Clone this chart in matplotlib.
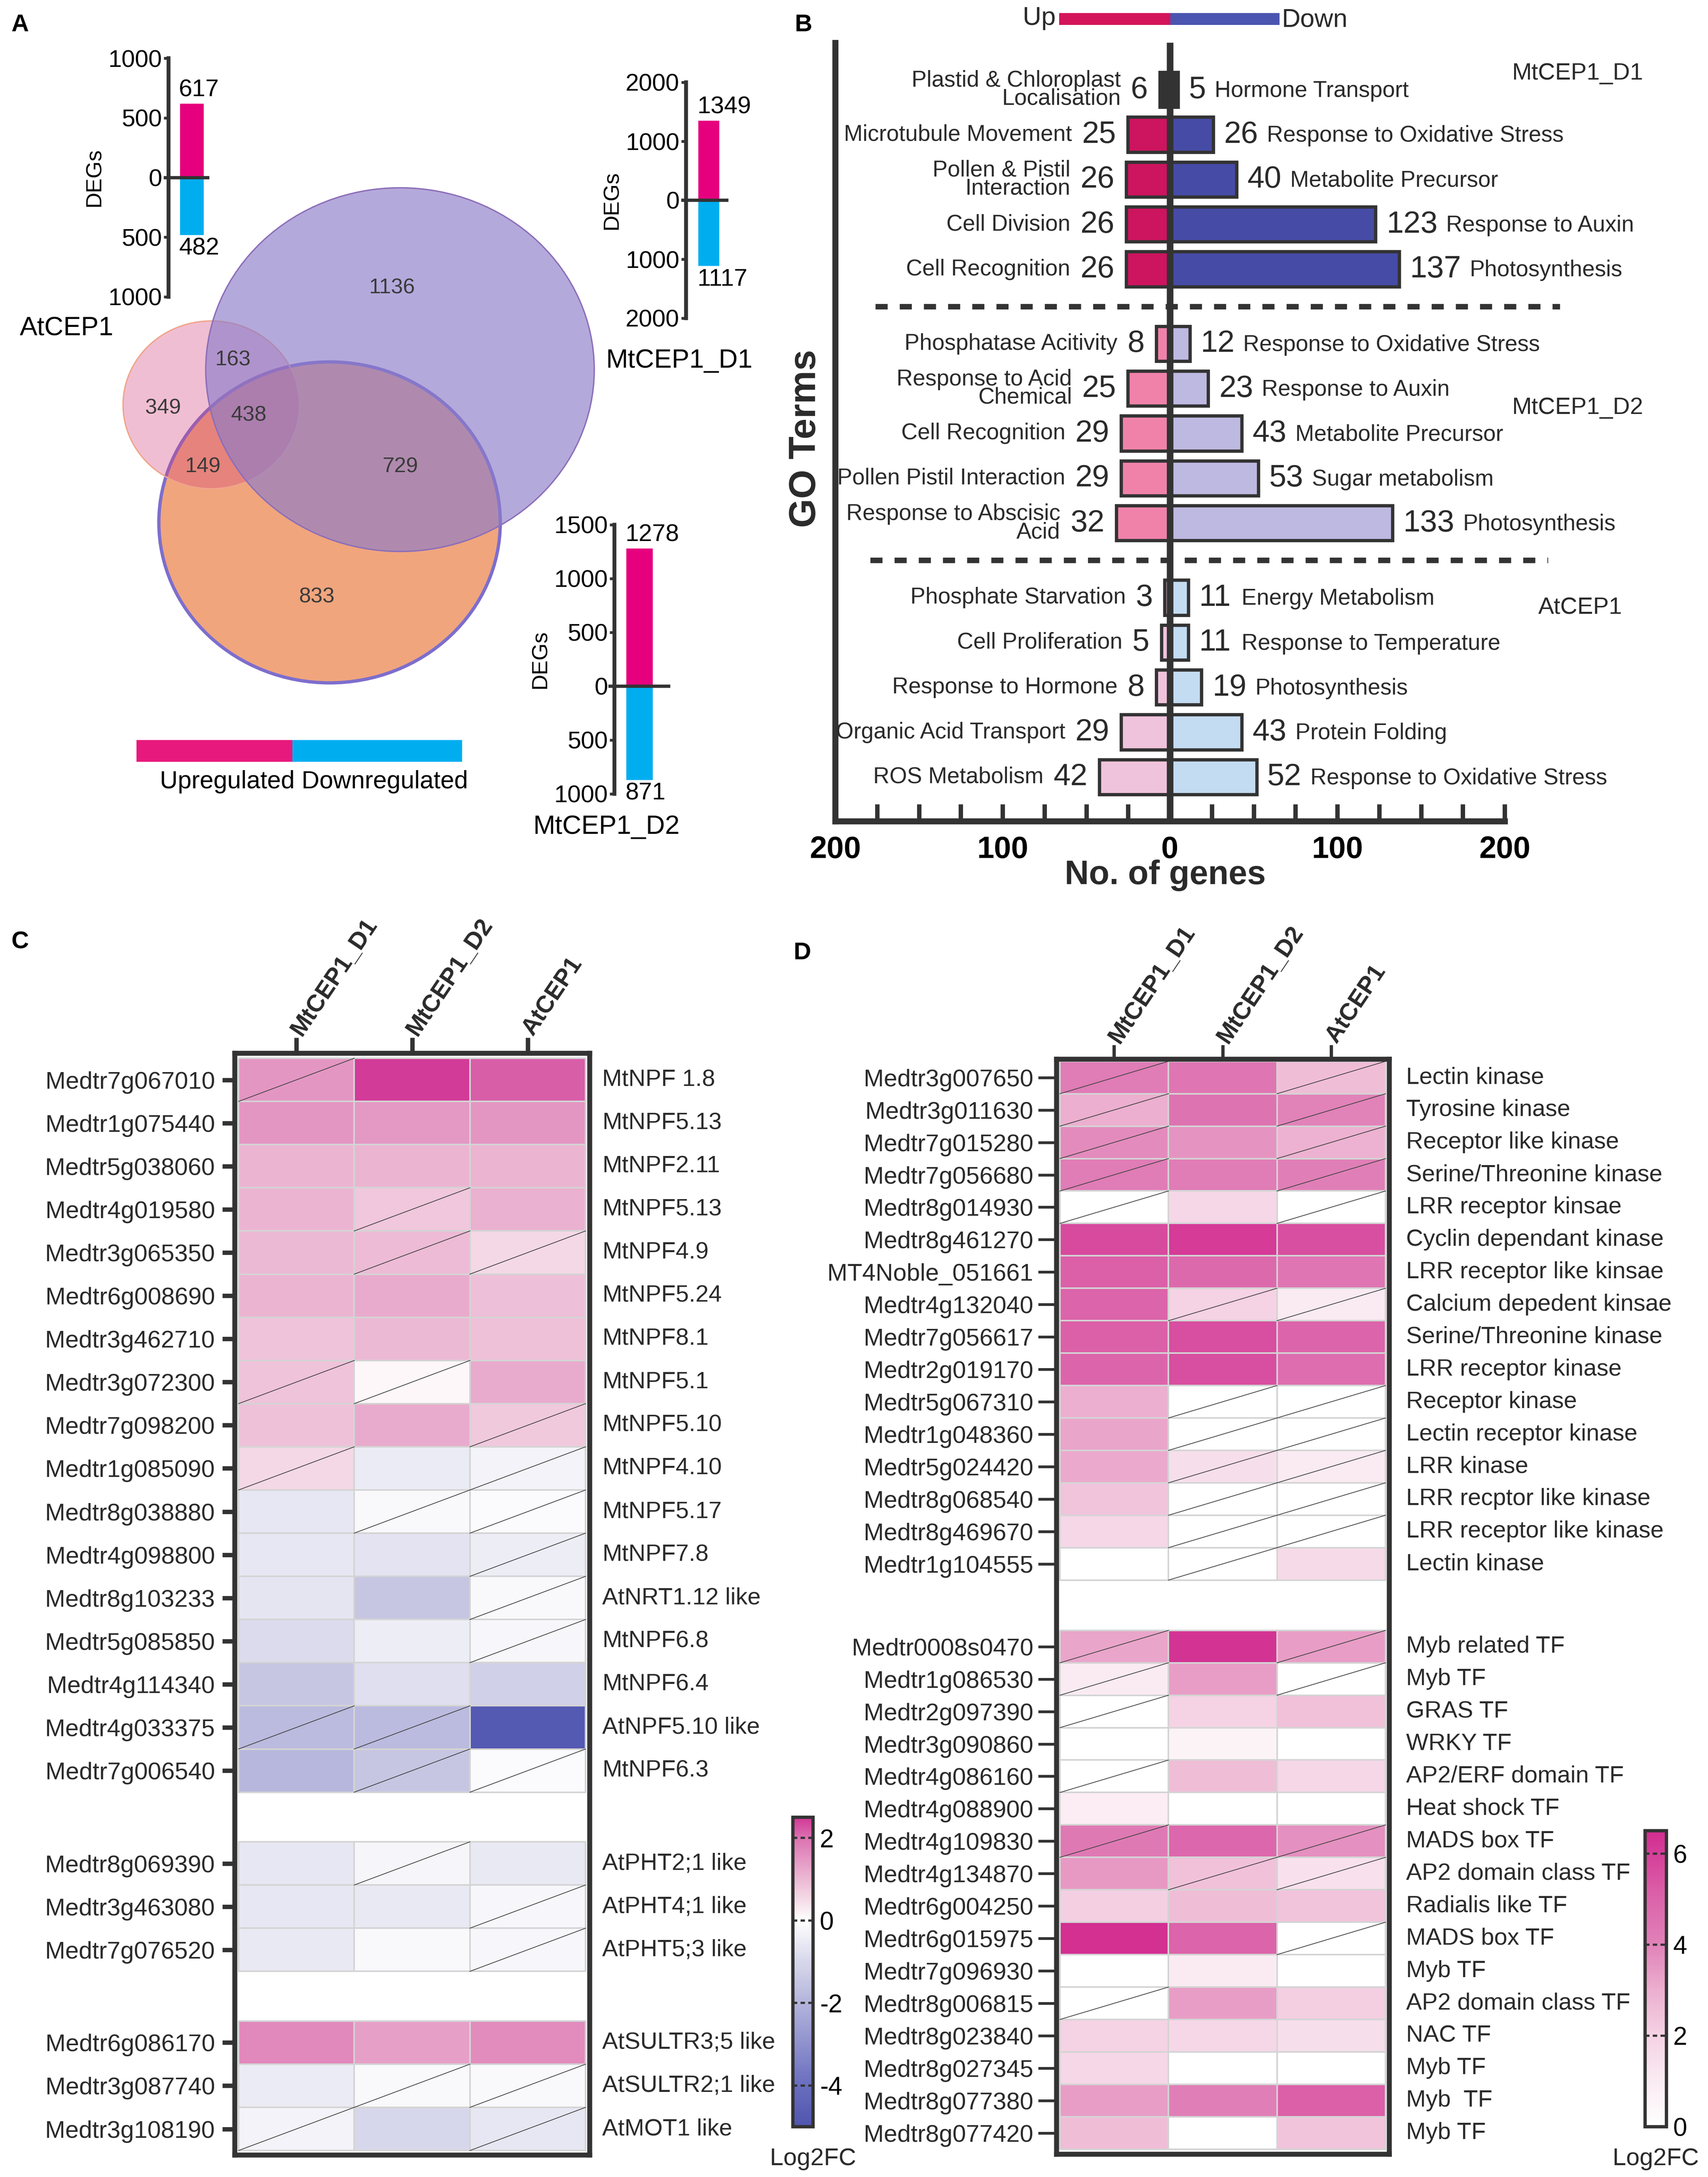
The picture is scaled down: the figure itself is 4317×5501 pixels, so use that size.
import numpy as np
import matplotlib
matplotlib.use('Agg')
import matplotlib.pyplot as plt
import matplotlib.colors as mcolors
from matplotlib.patches import Ellipse, Rectangle
from matplotlib import transforms

plt.rcParams['font.family'] = ['Liberation Sans', 'DejaVu Sans']
plt.rcParams['axes.unicode_minus'] = False
# no condensed face is installed, so "narrow" text is regular text at a smaller size
NARROW = ['Liberation Sans', 'DejaVu Sans']
DARK = '#333333'
W, H = 4317, 5501

# ---------------- panel A data ----------------
deg_names = ['AtCEP1', 'MtCEP1_D1', 'MtCEP1_D2']
deg_up = [617, 1349, 1278]
deg_down = [482, 1117, 871]
venn_regions = ['At', 'At&D1', 'D1', 'At&D2', 'At&D1&D2', 'D1&D2', 'D2']
venn_counts = [349, 163, 1136, 149, 438, 729, 833]

# ---------------- panel B data ----------------
go_groups = ['MtCEP1_D1', 'MtCEP1_D2', 'AtCEP1']
up_terms = ['Plastid & Chloroplast\nLocalisation', 'Microtubule Movement',
            'Pollen & Pistil\nInteraction', 'Cell Division', 'Cell Recognition',
            'Phosphatase Acitivity', 'Response to Acid\nChemical', 'Cell Recognition',
            'Pollen Pistil Interaction', 'Response to Abscisic\nAcid',
            'Phosphate Starvation', 'Cell Proliferation', 'Response to Hormone',
            'Organic Acid Transport', 'ROS Metabolism']
up_counts = [6, 25, 26, 26, 26, 8, 25, 29, 29, 32, 3, 5, 8, 29, 42]
down_terms = ['Hormone Transport', 'Response to Oxidative Stress', 'Metabolite Precursor',
              'Response to Auxin', 'Photosynthesis',
              'Response to Oxidative Stress', 'Response to Auxin', 'Metabolite Precursor',
              'Sugar metabolism', 'Photosynthesis',
              'Energy Metabolism', 'Response to Temperature', 'Photosynthesis',
              'Protein Folding', 'Response to Oxidative Stress']
down_counts = [5, 26, 40, 123, 137, 12, 23, 43, 53, 133, 11, 11, 19, 43, 52]

# ---------------- panel C data ----------------
hm_cols = ['MtCEP1_D1', 'MtCEP1_D2', 'AtCEP1']
c_genes = ['Medtr7g067010', 'Medtr1g075440', 'Medtr5g038060', 'Medtr4g019580',
           'Medtr3g065350', 'Medtr6g008690', 'Medtr3g462710', 'Medtr3g072300',
           'Medtr7g098200', 'Medtr1g085090', 'Medtr8g038880', 'Medtr4g098800',
           'Medtr8g103233', 'Medtr5g085850', 'Medtr4g114340', 'Medtr4g033375',
           'Medtr7g006540',
           'Medtr8g069390', 'Medtr3g463080', 'Medtr7g076520',
           'Medtr6g086170', 'Medtr3g087740', 'Medtr3g108190']
c_names = ['MtNPF 1.8', 'MtNPF5.13', 'MtNPF2.11', 'MtNPF5.13', 'MtNPF4.9', 'MtNPF5.24',
           'MtNPF8.1', 'MtNPF5.1', 'MtNPF5.10', 'MtNPF4.10', 'MtNPF5.17', 'MtNPF7.8',
           'AtNRT1.12 like', 'MtNPF6.8', 'MtNPF6.4', 'AtNPF5.10 like', 'MtNPF6.3',
           'AtPHT2;1 like', 'AtPHT4;1 like', 'AtPHT5;3 like',
           'AtSULTR3;5 like', 'AtSULTR2;1 like', 'AtMOT1 like']
c_group_sizes = [17, 3, 3]
c_d1 = [1.5, 1.5, 1.05, 1.05, 1.0, 1.05, 0.85, 0.85, 0.88, 0.55, -0.6, -0.6, -0.65,
        -0.9, -1.5, -1.8, -1.9, -0.6, -0.6, -0.55, 1.7, -0.5, -0.3]
c_d2 = [2.45, 1.45, 1.05, 0.8, 0.95, 1.2, 1.0, 0.1, 1.2, -0.5, -0.15, -0.7, -1.5,
        -0.45, -0.8, -1.8, -1.5, -0.25, -0.55, -0.15, 1.35, -0.15, -1.0]
c_at = [2.15, 1.5, 1.05, 1.1, 0.55, 0.9, 0.88, 1.2, 0.75, -0.3, -0.1, -0.45, -0.15,
        -0.2, -1.2, -4.8, -0.1, -0.55, -0.2, -0.2, 1.65, -0.15, -0.6]
c_ns_d1 = [1, 0, 0, 0, 0, 0, 0, 1, 0, 1, 0, 0, 0, 0, 0, 1, 0, 0, 0, 0, 0, 0, 1]
c_ns_d2 = [0, 0, 0, 1, 1, 0, 0, 1, 0, 0, 1, 0, 0, 0, 0, 1, 1, 1, 0, 0, 0, 1, 0]
c_ns_at = [0, 0, 0, 0, 1, 0, 0, 0, 1, 1, 1, 1, 1, 1, 0, 0, 1, 0, 1, 1, 0, 1, 1]

# ---------------- panel D data ----------------
d_genes = ['Medtr3g007650', 'Medtr3g011630', 'Medtr7g015280', 'Medtr7g056680',
           'Medtr8g014930', 'Medtr8g461270', 'MT4Noble_051661', 'Medtr4g132040',
           'Medtr7g056617', 'Medtr2g019170', 'Medtr5g067310', 'Medtr1g048360',
           'Medtr5g024420', 'Medtr8g068540', 'Medtr8g469670', 'Medtr1g104555',
           'Medtr0008s0470', 'Medtr1g086530', 'Medtr2g097390', 'Medtr3g090860',
           'Medtr4g086160', 'Medtr4g088900', 'Medtr4g109830', 'Medtr4g134870',
           'Medtr6g004250', 'Medtr6g015975', 'Medtr7g096930', 'Medtr8g006815',
           'Medtr8g023840', 'Medtr8g027345', 'Medtr8g077380', 'Medtr8g077420']
d_names = ['Lectin kinase', 'Tyrosine kinase', 'Receptor like kinase',
           'Serine/Threonine kinase', 'LRR receptor kinsae', 'Cyclin dependant kinase',
           'LRR receptor like kinsae', 'Calcium depedent kinsae', 'Serine/Threonine kinase',
           'LRR receptor kinase', 'Receptor kinase', 'Lectin receptor kinase', 'LRR kinase',
           'LRR recptor like kinase', 'LRR receptor like kinase', 'Lectin kinase',
           'Myb related TF', 'Myb TF', 'GRAS TF', 'WRKY TF', 'AP2/ERF domain TF',
           'Heat shock TF', 'MADS box TF', 'AP2 domain class TF', 'Radialis like TF',
           'MADS box TF', 'Myb TF', 'AP2 domain class TF', 'NAC TF', 'Myb TF', 'Myb  TF',
           'Myb TF']
d_group_sizes = [16, 16]
d_d1 = [4.2, 3.0, 3.8, 4.2, 0, 5.7, 5.1, 5.0, 5.1, 5.0, 3.0, 3.2, 3.1, 2.4, 1.8, 0,
        3.2, 1.0, 0, 0, 0, 0.9, 4.3, 3.5, 2.1, 6.4, 0, 0, 2.0, 1.8, 3.4, 2.6]
d_d2 = [4.4, 4.5, 3.6, 4.2, 1.8, 6.1, 4.8, 2.0, 5.6, 5.6, 0, 0, 1.5, 0, 0, 0,
        6.3, 3.4, 2.0, 0.6, 2.6, 0, 4.9, 2.5, 2.6, 5.0, 1.0, 3.4, 1.8, 0, 4.1, 0]
d_at = [2.6, 4.0, 2.9, 4.1, 0, 5.6, 4.4, 1.0, 5.0, 4.7, 0, 0, 1.0, 0, 0, 1.7,
        3.4, 0, 2.5, 0, 1.8, 0, 3.7, 1.4, 2.4, 0, 0, 2.1, 1.5, 0, 5.1, 2.4]
d_ns_d1 = [1, 1, 1, 1, 1, 0, 0, 0, 0, 0, 0, 0, 0, 0, 0, 0,
           1, 1, 1, 0, 1, 0, 1, 0, 0, 0, 0, 1, 0, 0, 0, 0]
d_ns_d2 = [0, 0, 0, 0, 0, 0, 0, 1, 0, 0, 1, 1, 1, 1, 1, 1,
           0, 0, 0, 0, 0, 0, 0, 1, 0, 0, 0, 0, 0, 0, 0, 0]
d_ns_at = [1, 1, 1, 1, 1, 0, 0, 1, 0, 0, 1, 1, 1, 1, 1, 0,
           1, 1, 0, 0, 0, 0, 1, 1, 0, 1, 0, 0, 0, 0, 0, 0]


def rgb(*c):
    return tuple(v / 255 for v in c)


fig = plt.figure(figsize=(W / 100, H / 100), dpi=100)


def px_axes(x0, y0, x1, y1):
    return fig.add_axes([x0 / W, 1 - y1 / H, (x1 - x0) / W, (y1 - y0) / H])


# overlay in pixel coordinates for free text and shapes
ax0 = fig.add_axes([0, 0, 1, 1])
ax0.set_xlim(0, W)
ax0.set_ylim(H, 0)
ax0.axis('off')

for lab, (x, y) in zip('ABCD', [(51, 63), (2031, 63), (51, 2381), (2028, 2408)]):
    ax0.text(x, y, lab, fontsize=44, fontweight='bold', ha='center', va='center')

# ---------------- panel A: Venn ----------------
ell_d2 = dict(xy=(833, 1320), width=863, height=811)
ell_at = dict(xy=(534, 1023), width=446, height=424)
ell_d1 = dict(xy=(1011, 934), width=982, height=919)
ax0.add_patch(Ellipse(**ell_d2, facecolor=rgb(240, 165, 125), edgecolor='none'))
ax0.add_patch(Ellipse(**ell_d2, facecolor='none', edgecolor=rgb(125, 110, 205), lw=6))
ax0.add_patch(Ellipse(**ell_at, facecolor=rgb(212, 69, 126), alpha=0.35, edgecolor='none'))
ax0.add_patch(Ellipse(**ell_at, facecolor='none', edgecolor=rgb(240, 165, 140), lw=2.5))
ax0.add_patch(Ellipse(**ell_d1, facecolor=rgb(140, 124, 201), alpha=0.65, edgecolor='none'))
ax0.add_patch(Ellipse(**ell_d1, facecolor='none', edgecolor=rgb(140, 110, 185), lw=2.5))

venn_xy = [(412, 1031), (589, 909), (991, 727), (513, 1179), (629, 1049), (1011, 1179),
           (801, 1508)]
for cnt, (x, y) in zip(venn_counts, venn_xy):
    ax0.text(x, y, str(cnt), fontsize=39, family=NARROW, color='#3a3a3a',
             ha='center', va='center')

# DEG insets
inset_rects = [(426, 147, 525, 750), (1734, 208, 1837, 804), (1553, 1326, 1690, 2006)]
inset_lims = [(-1000, 1000), (-2000, 2000), (-1000, 1500)]
inset_ticks = [[-1000, -500, 0, 500, 1000], [-2000, -1000, 0, 1000, 2000],
               [-1000, -500, 0, 500, 1000, 1500]]
inset_bar = [(0.596, 0.606), (0.558, 0.515), (0.464, 0.49)]
name_xy = [(168, 830), (1717, 912), (1533, 2090)]
for k in range(3):
    ax = px_axes(*inset_rects[k])
    ax.set_facecolor('none')
    bx, bw = inset_bar[k]
    ax.bar([bx], [deg_up[k]], width=bw, color='#E6007E')
    ax.bar([bx], [-deg_down[k]], width=bw, color='#00AEEF')
    ax.set_xlim(0, 1)
    ax.set_ylim(*inset_lims[k])
    for s in ['top', 'right', 'bottom']:
        ax.spines[s].set_visible(False)
    ax.spines['left'].set_linewidth(7)
    ax.spines['left'].set_color(DARK)
    ax.axhline(0, xmin=-0.08, xmax=1, color=DARK, lw=6, clip_on=False)
    ax.set_xticks([])
    ax.set_yticks(inset_ticks[k])
    ax.set_yticklabels([str(abs(t)) for t in inset_ticks[k]])
    ax.tick_params(axis='y', length=9, width=5, pad=3, labelsize=44, color=DARK)
    ax.set_ylabel('DEGs', fontsize=40, labelpad=6)
    ax.annotate(str(deg_up[k]), (bx - bw / 2, deg_up[k]), xytext=(-2, 4),
                textcoords='offset points', ha='left', va='bottom', fontsize=44)
    ax.annotate(str(deg_down[k]), (bx - bw / 2, -deg_down[k]), xytext=(-2, -4),
                textcoords='offset points', ha='left', va='top', fontsize=44)
    ax0.text(*name_xy[k], deg_names[k], fontsize=48, ha='center', va='center')

ax0.add_patch(Rectangle((345, 1870), 394, 55, color='#E8197D', lw=0))
ax0.add_patch(Rectangle((739, 1870), 429, 55, color='#00AEEF', lw=0))
ax0.text(793, 1975, 'Upregulated Downregulated', fontsize=45, ha='center', va='center')

# ---------------- panel B: GO bars ----------------
up_colors = ['#CD145F', '#F082AA', '#F0C3DC']
down_colors = ['#464BA5', '#BEB9E1', '#C3DCF2']
GROUP_STEP = 5.66
axB = px_axes(2111, 108, 3803, 2075)
axB.set_facecolor('none')
axB.set_xlim(-200, 200)
axB.set_ylim(16.3, -1.05)
for g in range(3):
    for i in range(5):
        k = g * 5 + i
        y = g * GROUP_STEP + i
        fu, fd = up_colors[g], down_colors[g]
        if k == 0:
            fu = fd = DARK
        axB.barh(y, -up_counts[k], height=0.78, color=fu, edgecolor=DARK, lw=6)
        axB.barh(y, down_counts[k], height=0.78, color=fd, edgecolor=DARK, lw=6)
        nu, nd = str(up_counts[k]), str(down_counts[k])
        axB.annotate(nu, (-up_counts[k], y), xytext=(-22, 0), textcoords='offset points',
                     ha='right', va='center', fontsize=56, color='#2a2a2a')
        axB.annotate(up_terms[k], (-up_counts[k], y),
                     xytext=(-22 - 31 * len(nu) - 18, 0), textcoords='offset points',
                     ha='right', va='center', fontsize=41, family=NARROW,
                     linespacing=0.8, color='#2a2a2a')
        axB.annotate(nd, (down_counts[k], y), xytext=(19, 0), textcoords='offset points',
                     ha='left', va='center', fontsize=56, color='#2a2a2a')
        axB.annotate(down_terms[k], (down_counts[k], y),
                     xytext=(19 + 31 * len(nd) + 16, -2), textcoords='offset points',
                     ha='left', va='center', fontsize=41, family=NARROW, color='#2a2a2a')

axB.axvline(0, color=DARK, lw=12, zorder=5)
for yd, x0, x1 in [(GROUP_STEP - 0.83, -176, 233), (2 * GROUP_STEP - 0.83, -179, 226)]:
    axB.plot([x0, x1], [yd, yd], color=DARK, lw=10, ls=(0, (2.2, 2.2)), clip_on=False,
             solid_capstyle='butt')
for s in ['top', 'right']:
    axB.spines[s].set_visible(False)
for s in ['left', 'bottom']:
    axB.spines[s].set_linewidth(11)
    axB.spines[s].set_color(DARK)
axB.set_yticks([])
xt = np.arange(-200, 201, 25)
axB.set_xticks(xt)
axB.set_xticklabels([str(abs(t)) if t % 100 == 0 else '' for t in xt])
axB.tick_params(axis='x', direction='in', length=31, width=8, pad=26, labelsize=56,
                color=DARK)
for lab in axB.get_xticklabels():
    lab.set_fontweight('bold')

ax0.text(2037, 1108, 'GO Terms', rotation=90, fontsize=68, fontweight='bold',
         ha='center', va='center', color='#2a2a2a')
ax0.text(2945, 2212, 'No. of genes', fontsize=61, fontweight='bold', ha='center',
         va='center', color='#2a2a2a')
for name, (x, y) in zip(go_groups, [(3987, 185), (3987, 1030), (3994, 1536)]):
    ax0.text(x, y, name, fontsize=43, family=NARROW, ha='center', va='center',
             color='#2a2a2a')
ax0.add_patch(Rectangle((2677, 33), 281, 30, color='#D4145A', lw=0))
ax0.add_patch(Rectangle((2958, 33), 276, 30, color='#4A55B0', lw=0))
ax0.text(2668, 46, 'Up', fontsize=47, ha='right', va='center', color='#2a2a2a')
ax0.text(3240, 50, 'Down', fontsize=47, ha='left', va='center', color='#2a2a2a')

# ---------------- heatmaps ----------------
c_cmap = mcolors.LinearSegmentedColormap.from_list('c', [
    (0.0, rgb(80, 85, 175)), (1 / 7.5, rgb(105, 110, 190)), (3 / 7.5, rgb(180, 180, 220)),
    (4 / 7.5, rgb(215, 215, 235)), (5 / 7.5, rgb(255, 255, 255)),
    (5.5 / 7.5, rgb(245, 220, 232)), (6 / 7.5, rgb(236, 185, 212)),
    (6.5 / 7.5, rgb(228, 150, 195)), (7 / 7.5, rgb(220, 115, 178)),
    (1.0, rgb(210, 55, 150))])
c_norm = mcolors.Normalize(-5, 2.5)
d_cmap = mcolors.LinearSegmentedColormap.from_list('d', [
    (0.0, rgb(255, 255, 255)), (1 / 6.5, rgb(250, 235, 242)), (2 / 6.5, rgb(245, 210, 228)),
    (3 / 6.5, rgb(236, 175, 207)), (4 / 6.5, rgb(225, 130, 185)),
    (5 / 6.5, rgb(220, 100, 170)), (1.0, rgb(210, 45, 145))])
d_norm = mcolors.Normalize(0, 6.5)


def heatmap(rect, genes, names, vals, ns, sizes, gap, cmap, norm, margins, name_x,
            ytick_len, ytick_w, ytick_pad, xtick_len, xtick_w, box_lw):
    ax = px_axes(*rect)
    starts, s = [], 0
    for n in sizes:
        starts.append(s)
        s += n + gap
    end = s - gap
    centers = []
    r = 0
    mesh = None
    for st, n in zip(starts, sizes):
        mesh = ax.pcolormesh(np.arange(4), st + np.arange(n + 1), vals[r:r + n],
                             cmap=cmap, norm=norm, edgecolors='#d4d4d4', linewidth=1.5)
        for i in range(n):
            centers.append(st + i + 0.5)
            for j in range(3):
                if ns[r + i][j]:
                    ax.plot([j, j + 1], [st + i + 1, st + i], color='#454545', lw=1.4)
        r += n
    mx, mt, mb = margins
    ax.set_xlim(-mx, 3 + mx)
    ax.set_ylim(end + mb, -mt)
    for sp in ax.spines.values():
        sp.set_linewidth(box_lw)
        sp.set_color(DARK)
    ax.set_yticks(centers)
    ax.set_yticklabels(genes, fontsize=44, family=NARROW, color='#2a2a2a')
    ax.tick_params(axis='y', length=ytick_len, width=ytick_w, pad=ytick_pad, color=DARK)
    ax.xaxis.tick_top()
    ax.set_xticks([0.5, 1.5, 2.5])
    ax.set_xticklabels(hm_cols, rotation=56, ha='left', va='center',
                       rotation_mode='anchor', fontsize=44, fontweight='bold',
                       color='#2a2a2a')
    ax.tick_params(axis='x', length=xtick_len, width=xtick_w, pad=8, color=DARK)
    tr = transforms.blended_transform_factory(ax.transAxes, ax.transData)
    for y, nm in zip(centers, names):
        ax.text(name_x, y, nm, transform=tr, ha='left', va='center', fontsize=43,
                family=NARROW, color='#2a2a2a')
    return mesh


def colorbar(mesh, rect, ticks, label_xy):
    cax = px_axes(*rect)
    cb = fig.colorbar(mesh, cax=cax, ticks=ticks)
    cb.outline.set_linewidth(6)
    cb.outline.set_edgecolor(DARK)
    cax.tick_params(length=0, pad=12, labelsize=46)
    for t in ticks:
        cax.axhline(t, color=DARK, lw=4, ls=(0, (2, 1.5)))
    ax0.text(*label_xy, 'Log2FC', fontsize=44, ha='center', va='center',
             color='#2a2a2a')


c_vals = np.column_stack([c_d1, c_d2, c_at])
c_ns = np.column_stack([c_ns_d1, c_ns_d2, c_ns_at])
mc = heatmap((593, 2661, 1490, 5445), c_genes, c_names, c_vals, c_ns, c_group_sizes,
             1.15, c_cmap, c_norm, (0.034, 0.12, 0.1), 1.036, 22, 8, 14, 28, 8, 9)
colorbar(mc, (2004, 4592, 2055, 5374), [2, 0, -2, -4], (2055, 5455))

d_vals = np.column_stack([d_d1, d_d2, d_at])
d_ns = np.column_stack([d_ns_d1, d_ns_d2, d_ns_at])
md = heatmap((2670, 2676, 3511, 5443), d_genes, d_names, d_vals, d_ns, d_group_sizes,
             1.55, d_cmap, d_norm, (0.033, 0.07, 0.15), 1.051, 33, 5, 9, 25, 6, 9)
colorbar(md, (4158, 4626, 4212, 5374), [0, 2, 4, 6], (4185, 5455))

fig.savefig('out.png', dpi=100)
